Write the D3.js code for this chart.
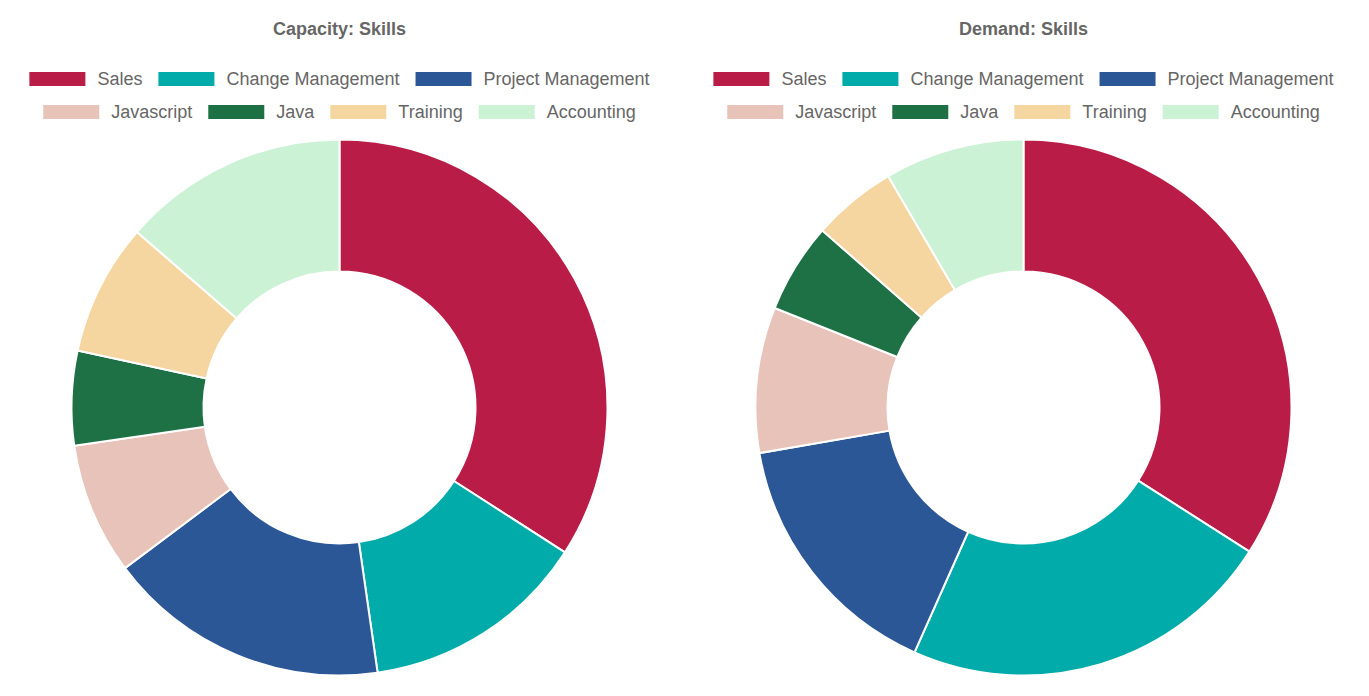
<!DOCTYPE html>
<html>
<head>
<meta charset="utf-8">
<script src="https://cdn.jsdelivr.net/npm/d3@7"></script>
<style>
  html, body { margin: 0; padding: 0; background: #fff; }
  svg { display: block; font-family: "Liberation Sans", Arial, Helvetica, sans-serif; }
</style>
</head>
<body>
<svg id="chart" width="1369" height="696"></svg>
<script>
const categories = ["Sales", "Change Management", "Project Management", "Javascript", "Java", "Training", "Accounting"];
const colors = ["#b91d47", "#00aba9", "#2b5797", "#e8c3b9", "#1e7145", "#f5d6a0", "#ccf2d5"];
const capacityValues = [30, 12, 15, 7, 5, 7, 12];
const demandValues = [19.4, 12.9, 8.9, 5.0, 3.1, 2.9, 4.8];
const titles = ["Capacity: Skills", "Demand: Skills"];

const svg = d3.select("#chart");
const charts = [
  { title: titles[0], values: capacityValues, cx: 339.5, cy: 407.5 },
  { title: titles[1], values: demandValues, cx: 1023.5, cy: 407.5 }
];

const outerR = 268, innerR = 136;
const pie = d3.pie().sort(null).value(d => d.value);
const arc = d3.arc().innerRadius(innerR).outerRadius(outerR);

charts.forEach(c => {
  const g = svg.append("g");
  // title
  g.append("text")
    .attr("x", c.cx).attr("y", 29)
    .attr("text-anchor", "middle")
    .attr("dominant-baseline", "central")
    .attr("font-size", 18).attr("font-weight", "bold")
    .attr("fill", "#666")
    .text(c.title);

  // legend
  const boxW = 56, boxH = 14, textGap = 12, itemGap = 16, maxW = 650;
  const items = categories.map((name, i) => ({ name, color: colors[i] }));
  // measure text widths
  const meas = g.append("text").attr("font-size", 18);
  items.forEach(it => { meas.text(it.name); it.tw = meas.node().getComputedTextLength(); it.w = boxW + textGap + it.tw; });
  meas.remove();
  const rows = [];
  let cur = [], curW = 0;
  items.forEach(it => {
    const add = (cur.length ? itemGap : 0) + it.w;
    if (cur.length && curW + add > maxW) { rows.push({ items: cur, w: curW }); cur = [it]; curW = it.w; }
    else { cur.push(it); curW += add; }
  });
  if (cur.length) rows.push({ items: cur, w: curW });
  const rowY = [79, 112];
  rows.forEach((r, ri) => {
    let x = c.cx - r.w / 2;
    const y = rowY[ri];
    r.items.forEach(it => {
      g.append("rect").attr("x", x).attr("y", y - boxH / 2).attr("width", boxW).attr("height", boxH).attr("fill", it.color);
      g.append("text").attr("x", x + boxW + textGap).attr("y", y)
        .attr("dominant-baseline", "central").attr("font-size", 18).attr("fill", "#666").text(it.name);
      x += it.w + itemGap;
    });
  });

  // doughnut
  const data = categories.map((name, i) => ({ name, value: c.values[i], color: colors[i] }));
  g.append("g").attr("transform", `translate(${c.cx},${c.cy})`)
    .selectAll("path").data(pie(data)).join("path")
    .attr("d", arc)
    .attr("fill", d => d.data.color)
    .attr("stroke", "#fff").attr("stroke-width", 2).attr("stroke-linejoin", "bevel");
});
</script>
</body>
</html>
